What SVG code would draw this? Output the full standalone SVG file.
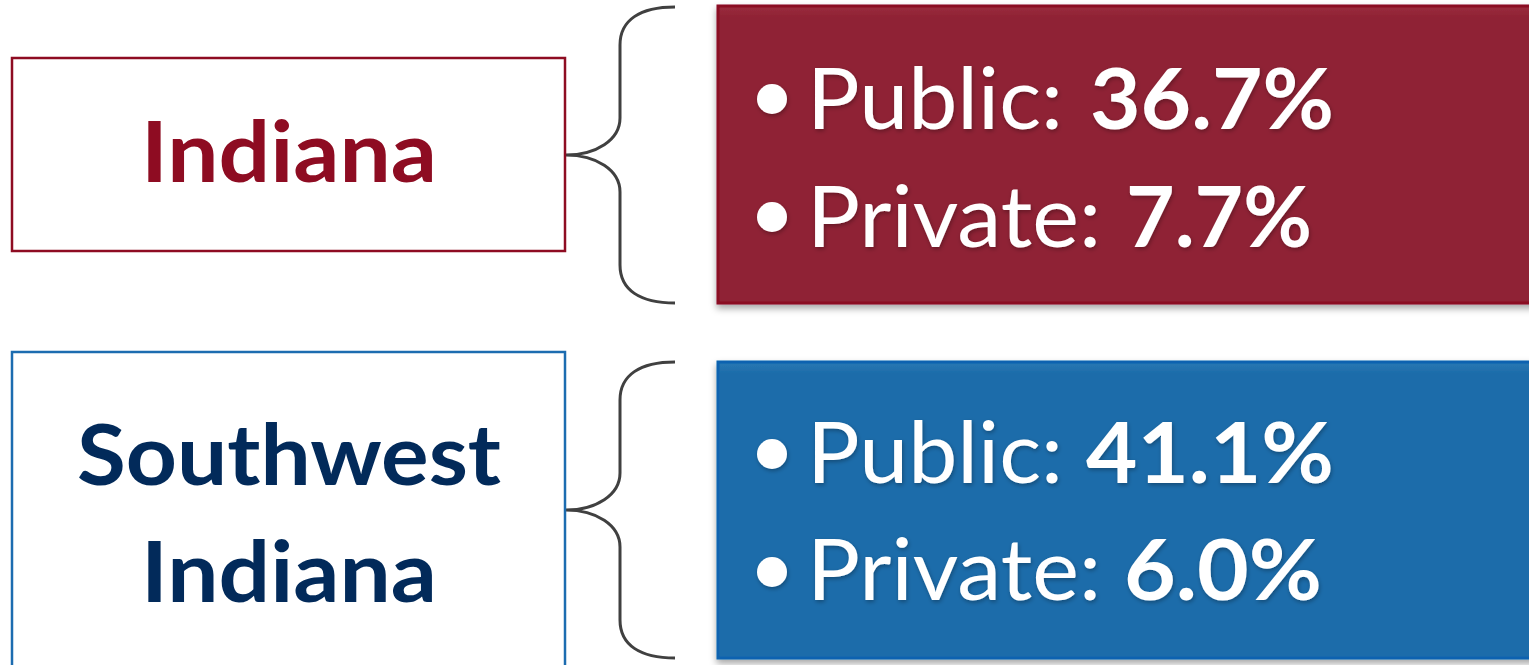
<svg xmlns="http://www.w3.org/2000/svg" width="1529" height="665" viewBox="0 0 1529 665">
  <defs>
    <filter id="boxShadow" x="-10%" y="-10%" width="130%" height="130%">
      <feDropShadow dx="0" dy="4" stdDeviation="3.5" flood-color="#000" flood-opacity="0.35"/>
    </filter>
    <filter id="textShadow" x="-10%" y="-20%" width="130%" height="150%">
      <feDropShadow dx="1" dy="2" stdDeviation="2" flood-color="#000" flood-opacity="0.3"/>
    </filter>
    <linearGradient id="redFill" x1="0" y1="0" x2="0" y2="1">
      <stop offset="0" stop-color="#9A2D3E"/>
      <stop offset="0.04" stop-color="#8F2234"/>
      <stop offset="1" stop-color="#8F2234"/>
    </linearGradient>
    <linearGradient id="blueFill" x1="0" y1="0" x2="0" y2="1">
      <stop offset="0" stop-color="#2A78B3"/>
      <stop offset="0.04" stop-color="#1C6CAA"/>
      <stop offset="1" stop-color="#1C6CAA"/>
    </linearGradient>
  </defs>
  <style>
    .label { font-family: Lato, "Open Sans", "Liberation Sans", sans-serif; font-weight: 700; font-size: 85px; text-anchor: middle; }
    .stat { font-family: Lato, "Open Sans", "Liberation Sans", sans-serif; font-size: 85px; fill: #FFFFFF; }
    .b { font-weight: 700; }
    .brace { fill: none; stroke: #404040; stroke-width: 3; }
  </style>
  <rect width="1529" height="665" fill="#FFFFFF"/>

  <g id="connectors">
    <path class="brace" d="M675,7 C640,7 620,20 620,45 L620,118 C620,140 596,155 566,155 C596,155 620,170 620,192 L620,265 C620,290 640,303 675,303"/>
    <path class="brace" d="M675,362 C640,362 620,375 620,400 L620,473 C620,495 596,510 566,510 C596,510 620,525 620,547 L620,620 C620,645 640,658 675,658"/>
  </g>

  <g id="indiana-label">
    <rect x="12" y="58" width="553" height="193" fill="#FFFFFF" stroke="#8E0C22" stroke-width="2.5"/>
    <text class="label" x="289" y="182" fill="#8E0C22" textLength="296" lengthAdjust="spacingAndGlyphs">Indiana</text>
  </g>

  <g id="indiana-stats">
    <rect x="718" y="6" width="830" height="297" fill="url(#redFill)" stroke="#8A0A22" stroke-width="3" filter="url(#boxShadow)"/>
    <g filter="url(#textShadow)">
      <circle cx="772" cy="99" r="15" fill="#FFFFFF"/>
      <circle cx="772" cy="217" r="15" fill="#FFFFFF"/>
      <text class="stat" y="129"><tspan x="807" textLength="256" lengthAdjust="spacingAndGlyphs">Public:</tspan><tspan class="b" x="1090" textLength="244" lengthAdjust="spacingAndGlyphs">36.7%</tspan></text>
      <text class="stat" y="247"><tspan x="807" textLength="294" lengthAdjust="spacingAndGlyphs">Private:</tspan><tspan class="b" x="1126" textLength="186" lengthAdjust="spacingAndGlyphs">7.7%</tspan></text>
    </g>
  </g>

  <g id="southwest-label">
    <rect x="12" y="352" width="553" height="340" fill="#FFFFFF" stroke="#1C6CB0" stroke-width="2.5"/>
    <text class="label" x="289" y="485" fill="#022A5A" textLength="424" lengthAdjust="spacingAndGlyphs">Southwest</text>
    <text class="label" x="289" y="602" fill="#022A5A" textLength="296" lengthAdjust="spacingAndGlyphs">Indiana</text>
  </g>

  <g id="southwest-stats">
    <rect x="718" y="362" width="830" height="296" fill="url(#blueFill)" stroke="#0A62B0" stroke-width="3" filter="url(#boxShadow)"/>
    <g filter="url(#textShadow)">
      <circle cx="772" cy="454" r="15" fill="#FFFFFF"/>
      <circle cx="772" cy="572" r="15" fill="#FFFFFF"/>
      <text class="stat" y="483"><tspan x="807" textLength="256" lengthAdjust="spacingAndGlyphs">Public:</tspan><tspan class="b" x="1086" textLength="248" lengthAdjust="spacingAndGlyphs">41.1%</tspan></text>
      <text class="stat" y="600"><tspan x="807" textLength="294" lengthAdjust="spacingAndGlyphs">Private:</tspan><tspan class="b" x="1124" textLength="198" lengthAdjust="spacingAndGlyphs">6.0%</tspan></text>
    </g>
  </g>
</svg>
